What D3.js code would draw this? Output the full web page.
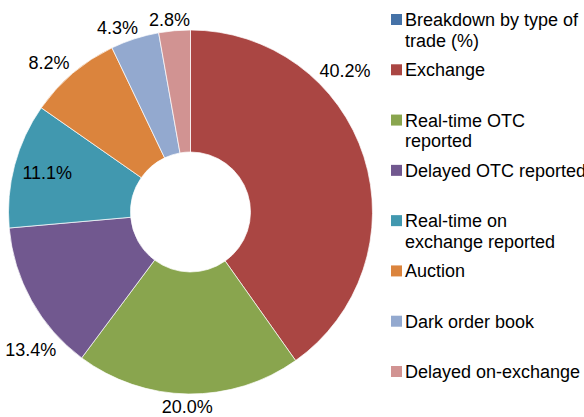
<!DOCTYPE html>
<html>
<head>
<meta charset="utf-8">
<script src="https://cdn.jsdelivr.net/npm/d3@7"></script>
<style>
  body { margin: 0; background: #fff; }
  text { font-family: "Liberation Sans", Arial, sans-serif; fill: #000; }
</style>
</head>
<body>
<div id="chart"></div>
<script>
// legend entries, first one is the series name Excel pushed into the legend
var categories = ["Breakdown by type of\ntrade (%)", "Exchange", "Real-time OTC\nreported",
    "Delayed OTC reported", "Real-time on\nexchange reported", "Auction",
    "Dark order book", "Delayed on-exchange"];
var shares = [0, 40.2, 20.0, 13.4, 11.1, 8.2, 4.3, 2.8];
var colors = ["#4572A7", "#AA4643", "#89A54E", "#71588F", "#4198AF", "#DB843D", "#93A9CF", "#D19392"];

var width = 584, height = 417;
var cx = 190.5, cy = 212, outerR = 182, innerR = 60;
// plot area bounds the labels have to stay in
var minX = 5, maxX = 371;

var svg = d3.select("#chart").append("svg")
    .attr("width", width)
    .attr("height", height);

var pie = d3.pie().sort(null).value(function(d) { return d; });
var arc = d3.arc().innerRadius(innerR).outerRadius(outerR);
var arcs = pie(shares);

var g = svg.append("g").attr("transform", "translate(" + cx + "," + cy + ")");

g.selectAll("path.slice")
    .data(arcs)
    .enter().append("path")
    .attr("class", "slice")
    .attr("d", arc)
    .attr("fill", function(d, i) { return colors[i]; })
    .attr("stroke", "#fff")
    .attr("stroke-width", 0.7);

// labels: box corner sits on the slice's ray just outside the rim,
// slid along the rim until it fits the plot area, else put inside end
var fmt = d3.format(".1f");
var clamp = function(v) { return Math.max(-1, Math.min(1, v)); };
var labels = svg.append("g");
arcs.forEach(function(d, i) {
    if (!d.value) return;
    var t = labels.append("text")
        .attr("text-anchor", "middle")
        .style("font-size", "18px")
        .text(fmt(d.value) + "%");
    var w = t.node().getComputedTextLength(), h = 14;

    function place(theta, inside) {
        var s = Math.sin(theta), c = Math.cos(theta);
        var k = inside ? -1 : 1;
        var dist = inside ? outerR - 8 : outerR + 5;
        var px = cx + s * dist, py = cy - c * dist;
        return { x: px + k * clamp(2.5 * s) * w / 2, y: py - k * clamp(2.5 * c) * h / 2 };
    }
    function fits(p) { return p.x - w / 2 >= minX && p.x + w / 2 <= maxX; }

    var mid = (d.startAngle + d.endAngle) / 2;
    var deg = mid * 180 / Math.PI;
    // direction toward the nearest pole (top or bottom)
    var pole = deg < 90 ? 0 : deg < 270 ? Math.PI : 2 * Math.PI;
    var dir = pole < mid ? -1 : 1;
    var step = 0.25 * Math.PI / 180;
    var theta = mid, pos = place(theta, false);
    while (!fits(pos) && theta > d.startAngle && theta < d.endAngle) {
        theta += dir * step;
        pos = place(theta, false);
    }
    if (!fits(pos)) pos = place(mid, true);
    t.attr("x", pos.x).attr("y", pos.y + 7);
});

// legend
var ly = d3.scalePoint().domain(d3.range(categories.length)).range([26, 378]);
var legend = svg.append("g");
var items = legend.selectAll("g")
    .data(categories)
    .enter().append("g")
    .attr("transform", function(d, i) { return "translate(0," + ly(i) + ")"; });

items.append("rect")
    .attr("x", 391)
    .attr("y", -12)
    .attr("width", 11)
    .attr("height", 11)
    .attr("fill", function(d, i) { return colors[i]; });

items.append("text")
    .style("font-size", "18px")
    .selectAll("tspan")
    .data(function(d) { return d.split("\n"); })
    .enter().append("tspan")
    .attr("x", 405)
    .attr("y", function(d, j) { return j * 20.5; })
    .text(function(d) { return d; });
</script>
</body>
</html>
